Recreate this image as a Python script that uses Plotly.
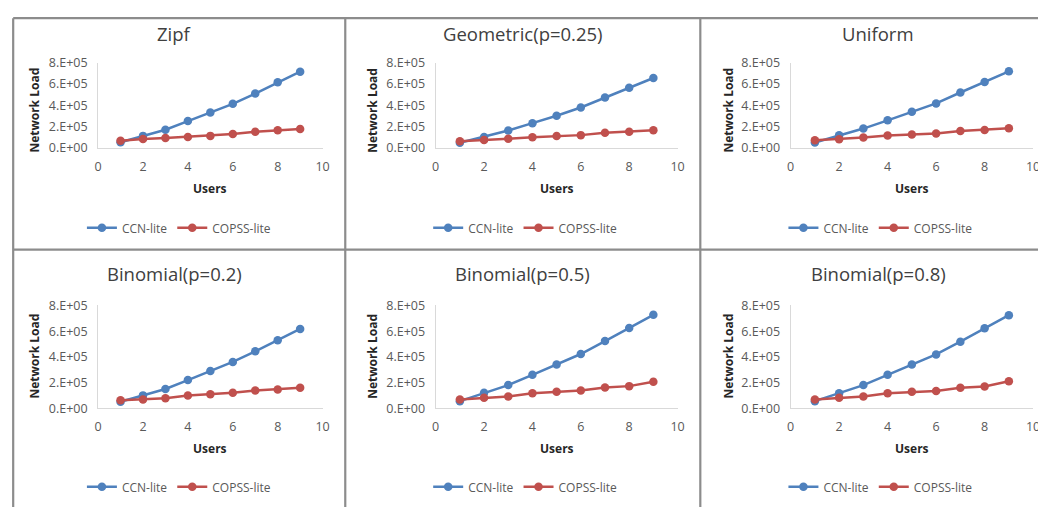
import plotly.graph_objects as go

W, H = 1046, 507
OFF = 8            # default page body margin
FW, FH = W - OFF, 512
# measured mapping page -> photographed pixels (compensated below)
SX, AX = 0.9915, 1.8
SY, AY = 0.963, 9.3

users = [1, 2, 3, 4, 5, 6, 7, 8, 9]
titles = ["Zipf", "Geometric(p=0.25)", "Uniform",
          "Binomial(p=0.2)", "Binomial(p=0.5)", "Binomial(p=0.8)"]
series_names = ["CCN-lite", "COPSS-lite"]

ccn_zipf = [50000, 110000, 168000, 250000, 330000, 413000, 510000, 616000, 717000]
copss_zipf = [63000, 80000, 89000, 100000, 110000, 127000, 149000, 162000, 175000]
ccn_geom = [45000, 100000, 160000, 230000, 300000, 378000, 473000, 565000, 657000]
copss_geom = [60000, 70000, 83000, 98000, 108000, 117000, 140000, 149000, 162000]
ccn_unif = [47000, 116000, 179000, 257000, 339000, 417000, 520000, 620000, 720000]
copss_unif = [69000, 78000, 94000, 113000, 122000, 132000, 157000, 166000, 182000]
ccn_bin02 = [50000, 100000, 150000, 219000, 289000, 360000, 443000, 529000, 617000]
copss_bin02 = [63000, 68000, 78000, 99000, 109000, 120000, 138000, 146000, 159000]
ccn_bin05 = [55000, 120000, 180000, 260000, 341000, 422000, 523000, 625000, 727000]
copss_bin05 = [68000, 81000, 91000, 117000, 128000, 138000, 161000, 172000, 206000]
ccn_bin08 = [55000, 117000, 180000, 260000, 341000, 419000, 518000, 622000, 724000]
copss_bin08 = [68000, 81000, 91000, 117000, 128000, 135000, 159000, 169000, 210000]

ccn_all = [ccn_zipf, ccn_geom, ccn_unif, ccn_bin02, ccn_bin05, ccn_bin08]
copss_all = [copss_zipf, copss_geom, copss_unif, copss_bin02, copss_bin05, copss_bin08]

y_tickvals = [0, 200000, 400000, 600000, 800000]
y_ticktext = ["0.E+00", "2.E+05", "4.E+05", "6.E+05", "8.E+05"]
x_tickvals = [0, 2, 4, 6, 8, 10]

BLUE = "#4F81BD"
RED = "#C0504D"
FONT = "Open Sans"

# target pixel layout of each panel
col_x = [(96, 321), (434.3, 676.7), (790, 1033)]
row_y = [(62.7, 147), (304.3, 406.7)]
title_x = [173, 521.7, 878]
title_y = [33, 272]
users_y = [188, 446.7]
nl_x = [32, 371, 727.5]
nl_y = [110, 355]
leg_x = [177, 524, 880]
leg_y = [227, 485]


def px(x):
    page = (x - AX) / SX
    return (page - OFF) / FW


def py(y):
    page = (y - AY) / SY
    return 1 - (page - OFF) / FH


fig = go.Figure()
annotations = []
layout = {}

for i in range(6):
    r, c = divmod(i, 3)
    n = i + 1
    xa = "x" if n == 1 else f"x{n}"
    ya = "y" if n == 1 else f"y{n}"
    lg = "legend" if n == 1 else f"legend{n}"
    for name, vals, color in [(series_names[0], ccn_all[i], BLUE),
                              (series_names[1], copss_all[i], RED)]:
        fig.add_trace(go.Scatter(
            x=users, y=vals, name=name, mode="lines+markers",
            xaxis=xa, yaxis=ya, legend=lg,
            line=dict(color=color, width=2.5),
            marker=dict(color=color, size=8.5, symbol="circle"),
        ))
    x0, x1 = col_x[c]
    y0, y1 = row_y[r]
    layout["xaxis" if n == 1 else f"xaxis{n}"] = dict(
        domain=[px(x0), px(x1)], anchor=ya, range=[0, 10],
        tickvals=x_tickvals, showgrid=False, zeroline=False,
        showline=True, linecolor="#D9D9D9", linewidth=1, ticks="",
        ticklabelstandoff=7,
        tickfont=dict(family=FONT, size=12.5, color="#595959"),
    )
    layout["yaxis" if n == 1 else f"yaxis{n}"] = dict(
        domain=[py(y1), py(y0)], anchor=xa, range=[0, 800000],
        tickvals=y_tickvals, ticktext=y_ticktext, showgrid=False,
        zeroline=False, showline=True, linecolor="#D9D9D9", linewidth=1,
        ticks="", ticklabelstandoff=7,
        tickfont=dict(family=FONT, size=12.5, color="#595959"),
    )
    layout[lg] = dict(
        x=px(leg_x[c]), y=py(leg_y[r]), xanchor="center", yanchor="middle",
        orientation="h", font=dict(family=FONT, size=12, color="#595959"),
        bgcolor="rgba(0,0,0,0)", itemwidth=30, tracegroupgap=0,
    )
    annotations.append(dict(
        text=titles[i], x=px(title_x[c]), y=py(title_y[r]), xref="paper",
        yref="paper", showarrow=False, xanchor="center", yanchor="middle",
        font=dict(family=FONT, size=18.5, color="#404040"),
    ))
    annotations.append(dict(
        text="<b>Users</b>", x=px((x0 + x1) / 2), y=py(users_y[r]),
        xref="paper", yref="paper", showarrow=False, xanchor="center",
        yanchor="middle", font=dict(family=FONT, size=12, color="#262626"),
    ))
    annotations.append(dict(
        text="<b>Network Load</b>", x=px(nl_x[c]), y=py(nl_y[r]),
        xref="paper", yref="paper", showarrow=False, xanchor="center",
        yanchor="middle", textangle=-90,
        font=dict(family=FONT, size=12, color="#262626"),
    ))

border = "#8C8C8C"
shapes = []
# outer top / left borders sit at the figure edge; inner dividers at targets
edge_x, edge_y = 1.2 / FW, 1 - 1.2 / FH
for (sx0, sy0, sx1, sy1) in [
    (edge_x, edge_y, 1, edge_y),
    (edge_x, edge_y, edge_x, 0),
    (edge_x, py(248.7), 1, py(248.7)),
    (px(343.7), edge_y, px(343.7), 0),
    (px(699.5), edge_y, px(699.5), 0),
]:
    shapes.append(dict(type="line", xref="paper", yref="paper",
                       x0=sx0, y0=sy0, x1=sx1, y1=sy1,
                       line=dict(color=border, width=2.2)))
shapes.append(dict(type="line", xref="paper", yref="paper",
                   x0=edge_x, y0=py(506), x1=1, y1=py(506),
                   line=dict(color="#D0D0D0", width=1.2)))

fig.update_layout(
    width=FW, height=FH, margin=dict(l=0, r=0, t=0, b=0),
    paper_bgcolor="white", plot_bgcolor="white",
    annotations=annotations, shapes=shapes, **layout,
)

fig.write_html("out.html")
